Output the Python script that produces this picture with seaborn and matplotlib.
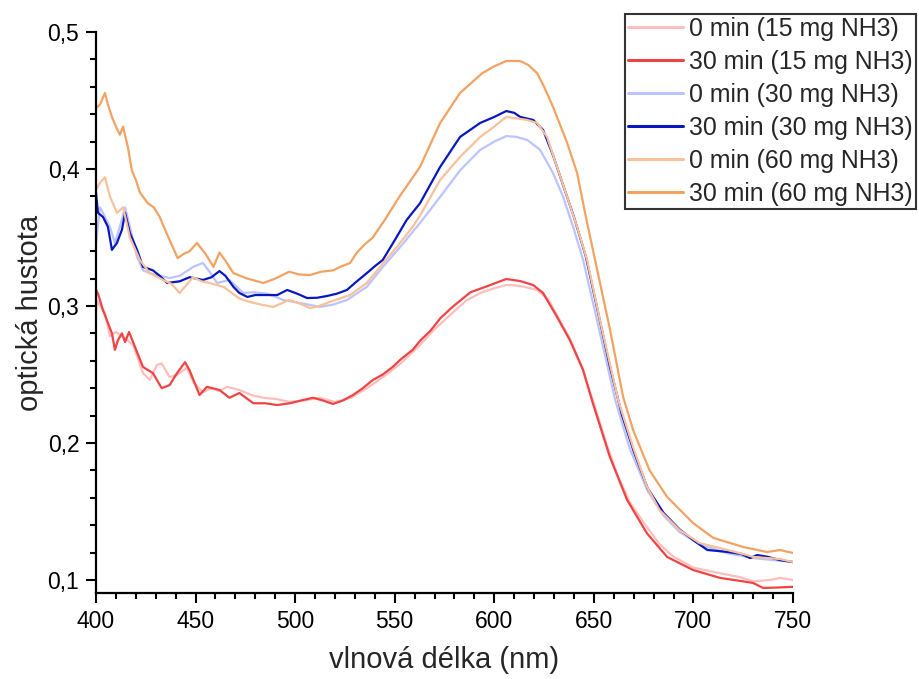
import matplotlib
matplotlib.use("Agg")
import matplotlib.pyplot as plt
from matplotlib.lines import Line2D
from matplotlib.ticker import MultipleLocator, FuncFormatter
import seaborn as sns
import pandas as pd

labels = ["0 min (15 mg NH3)", "30 min (15 mg NH3)", "0 min (30 mg NH3)",
          "30 min (30 mg NH3)", "0 min (60 mg NH3)", "30 min (60 mg NH3)"]
colors = ["#FFBDBD", "#EE4444", "#BCC4FF", "#0818BE", "#F9C19A", "#F2A263"]

wl_pink = [400, 400.5, 402, 404.5, 407, 410, 412, 415, 418.6, 421, 423.6, 427, 430.6, 433, 437, 441,
           445.7, 449, 453.7, 458, 462, 465.8, 472, 478, 484, 491, 497, 505, 512, 520, 528, 536, 545,
           553, 562.7, 570, 579, 586, 593, 600, 606, 611, 615, 621.5, 627, 632, 638, 644, 650, 656,
           662, 668, 675, 683, 690, 700, 713, 723.5, 730, 738.5, 743.5, 750]
od_pink = [0.295, 0.304, 0.300, 0.295, 0.278, 0.281, 0.279, 0.276, 0.2715, 0.262, 0.251, 0.246, 0.257,
           0.258, 0.248, 0.250, 0.255, 0.244, 0.237, 0.240, 0.238, 0.241, 0.2387, 0.235, 0.233, 0.232,
           0.230, 0.231, 0.233, 0.230, 0.233, 0.240, 0.249, 0.258, 0.2715, 0.283, 0.295, 0.304, 0.3095,
           0.313, 0.3153, 0.315, 0.314, 0.3117, 0.305, 0.292, 0.276, 0.255, 0.229, 0.201, 0.176, 0.157,
           0.142, 0.126, 0.117, 0.109, 0.105, 0.102, 0.099, 0.100, 0.1015, 0.100]

wl_red = [400, 401, 403.5, 406, 408, 409.5, 411, 413, 414.6, 416.6, 419.6, 423.6, 428.6, 433, 437,
          440.7, 444.7, 447, 452, 455.7, 462, 467, 472, 479, 485, 491, 497.4, 504, 509, 514, 519, 524,
          529, 534, 539, 544, 549, 553, 559, 563, 568, 573, 579, 588, 598, 606, 613, 619.5, 624.5,
          631.5, 638, 644.6, 649.5, 658, 666.7, 676.7, 686.8, 699.8, 713.4, 725, 730, 735, 742, 750]
od_red = [0.3117, 0.309, 0.297, 0.2876, 0.280, 0.268, 0.275, 0.280, 0.2737, 0.281, 0.270, 0.2555,
          0.251, 0.240, 0.2423, 0.251, 0.259, 0.253, 0.235, 0.241, 0.2387, 0.233, 0.2365, 0.229,
          0.229, 0.2277, 0.229, 0.2314, 0.233, 0.231, 0.2285, 0.231, 0.235, 0.240, 0.246, 0.250,
          0.2555, 0.261, 0.268, 0.275, 0.282, 0.2912, 0.2993, 0.310, 0.3153, 0.3197, 0.3182, 0.3153,
          0.3095, 0.292, 0.275, 0.2533, 0.229, 0.190, 0.1584, 0.134, 0.1168, 0.1073, 0.1015, 0.099,
          0.0978, 0.0942, 0.0945, 0.095]

wl_lblue = [400, 402, 403.5, 407, 409.5, 412, 414.6, 417, 420.6, 423.6, 427, 430.6, 437, 442, 448.7,
            453.7, 457, 460.8, 467, 474, 479, 486, 494, 503, 512.5, 519, 526, 536, 544, 552.7, 562.7,
            572.8, 582.8, 592.9, 600, 606, 611, 616.5, 623, 629.5, 634.6, 639.6, 644.6, 652, 660.7,
            668, 677, 685, 693, 703, 717, 730, 743.5, 750]
od_lblue = [0.346, 0.372, 0.368, 0.3577, 0.346, 0.358, 0.372, 0.358, 0.3358, 0.326, 0.324, 0.3226,
            0.3204, 0.322, 0.3285, 0.3314, 0.325, 0.3168, 0.319, 0.3095, 0.310, 0.309, 0.3044, 0.302,
            0.2993, 0.301, 0.3044, 0.314, 0.3285, 0.343, 0.3606, 0.3796, 0.399, 0.4139, 0.420, 0.424,
            0.4235, 0.4212, 0.414, 0.397, 0.3796, 0.3577, 0.3336, 0.287, 0.2314, 0.196, 0.165, 0.147,
            0.135, 0.126, 0.1195, 0.116, 0.114, 0.113]

wl_dblue = [400, 401, 403.5, 406, 408, 410.5, 413, 414.6, 417, 420.6, 423.6, 428.6, 432, 435.7, 442,
            447, 453.7, 458, 462, 465, 469, 472, 476, 480, 486, 491, 496, 501, 506, 511, 516, 521, 526,
            531, 536, 540, 544, 550, 556, 562.7, 572.8, 582.8, 592.9, 600, 606, 610, 613, 619.5, 624.5,
            629.5, 634.6, 640, 646, 652, 658, 664, 670, 677, 685, 693, 700, 707, 717, 724, 728.5, 732,
            737, 743.5, 750]
od_dblue = [0.3825, 0.368, 0.365, 0.3577, 0.341, 0.346, 0.3555, 0.368, 0.3533, 0.341, 0.3285, 0.326,
            0.322, 0.3168, 0.318, 0.321, 0.319, 0.321, 0.3255, 0.322, 0.314, 0.3095, 0.3066, 0.308,
            0.308, 0.308, 0.3117, 0.309, 0.3058, 0.306, 0.3073, 0.309, 0.3117, 0.318, 0.324, 0.329,
            0.3336, 0.348, 0.3628, 0.375, 0.4015, 0.4234, 0.4336, 0.438, 0.4423, 0.441, 0.438, 0.4358,
            0.4285, 0.4100, 0.388, 0.365, 0.336, 0.296, 0.256, 0.221, 0.194, 0.167, 0.149, 0.137,
            0.129, 0.1219, 0.1205, 0.119, 0.116, 0.1182, 0.117, 0.1145, 0.1131]

wl_lorange = [400, 402, 404.5, 407, 410.5, 413.6, 417, 422, 427, 433.7, 438, 442, 448.7, 453, 457,
              464, 472, 477, 483, 489, 497, 502, 507.5, 512, 517.5, 527.6, 536, 542.6, 551, 559, 562.7,
              572.8, 582.8, 592.9, 600, 606, 611, 616.5, 621.5, 626.5, 631.5, 636.6, 641.6, 646.6,
              653, 662.2, 669.7, 676.7, 683, 693, 703, 717, 727, 730, 743.5, 750]
od_lorange = [0.3847, 0.390, 0.394, 0.380, 0.368, 0.372, 0.350, 0.3336, 0.324, 0.319, 0.316, 0.3095,
              0.321, 0.318, 0.3168, 0.314, 0.3055, 0.303, 0.301, 0.2993, 0.3044, 0.302, 0.2985, 0.300,
              0.303, 0.308, 0.3168, 0.3285, 0.343, 0.3577, 0.366, 0.392, 0.4088, 0.4234, 0.431, 0.438,
              0.437, 0.4358, 0.4336, 0.4234, 0.4015, 0.3796, 0.3577, 0.3336, 0.290, 0.2314, 0.197,
              0.168, 0.151, 0.1365, 0.127, 0.1219, 0.1182, 0.1168, 0.1153, 0.1131]

wl_orange = [400, 402, 404.5, 406, 408, 410, 412, 413.6, 416, 418, 420, 422, 426, 429, 432, 434, 437,
             441, 444, 447, 450.7, 455, 459, 462, 465, 469, 476, 484, 490, 497, 502, 507.5, 513, 519,
             522.5, 527.6, 531, 535, 539, 545, 552, 562.7, 572.8, 582.8, 594, 600, 606, 613, 617,
             621.5, 625, 629.5, 636.6, 641.6, 646, 650.6, 658, 664.7, 669.7, 678, 686.8, 699.8, 710,
             725, 737, 743.5, 750]
od_orange = [0.4445, 0.447, 0.4555, 0.447, 0.438, 0.431, 0.425, 0.431, 0.416, 0.399, 0.392, 0.383,
             0.375, 0.372, 0.365, 0.358, 0.348, 0.335, 0.338, 0.340, 0.346, 0.338, 0.3285, 0.339,
             0.333, 0.324, 0.320, 0.3168, 0.320, 0.325, 0.323, 0.3226, 0.325, 0.326, 0.3285, 0.3314,
             0.339, 0.345, 0.350, 0.3628, 0.379, 0.4015, 0.4336, 0.4555, 0.470, 0.475, 0.4788, 0.4788,
             0.476, 0.470, 0.460, 0.4453, 0.419, 0.397, 0.365, 0.3336, 0.2836, 0.2336, 0.2095, 0.180,
             0.1606, 0.1416, 0.1307, 0.1241, 0.1204, 0.1219, 0.1197]

x_ticks = [400, 450, 500, 550, 600, 650, 700, 750]
y_ticks = [0.1, 0.2, 0.3, 0.4, 0.5]

series = [(wl_pink, od_pink), (wl_red, od_red), (wl_lblue, od_lblue),
          (wl_dblue, od_dblue), (wl_lorange, od_lorange), (wl_orange, od_orange)]
frames = [pd.DataFrame({"wl": w, "od": o, "series": lab}) for (w, o), lab in zip(series, labels)]
df = pd.concat(frames, ignore_index=True)

sns.set_style("ticks")
plt.rcParams["font.family"] = ["Liberation Sans", "DejaVu Sans"]

fig = plt.figure(figsize=(9.19, 6.79), dpi=100)
ax = fig.add_axes([96 / 919, 1 - 593 / 679, 697 / 919, 561 / 679])

sns.lineplot(data=df, x="wl", y="od", hue="series", hue_order=labels,
             palette=dict(zip(labels, colors)), estimator=None, sort=True,
             linewidth=1.6, legend=False, ax=ax)

ax.set_xlim(400, 750)
ax.set_ylim(0.0905, 0.5)
ax.set_xticks(x_ticks)
ax.set_yticks(y_ticks)
ax.xaxis.set_minor_locator(MultipleLocator(10))
ax.yaxis.set_minor_locator(MultipleLocator(0.02))
ax.yaxis.set_major_formatter(FuncFormatter(lambda v, p: f"{v:.1f}".replace(".", ",")))
ax.xaxis.set_major_formatter(FuncFormatter(lambda v, p: f"{v:.0f}"))

for s in ["top", "right"]:
    ax.spines[s].set_visible(False)
for s in ["left", "bottom"]:
    ax.spines[s].set_linewidth(1.6)
    ax.spines[s].set_color("black")

ax.tick_params(axis="both", which="major", direction="out", length=7, width=1.5,
               labelsize=16.5, colors="black", pad=5)
ax.tick_params(axis="both", which="minor", direction="out", length=4, width=1.5, colors="black")

ax.set_xlabel("vlnová délka (nm)", fontsize=21)
ax.set_ylabel("optická hustota", fontsize=21)
ax.xaxis.set_label_coords(0.5, -0.095)
ax.yaxis.set_label_coords(-0.075, 0.5)

handles = [Line2D([0], [0], color=c, lw=2.2) for c in colors]
leg = ax.legend(handles, labels, loc="upper left", bbox_to_anchor=(625 / 919, 1 - 14 / 679),
                bbox_transform=fig.transFigure, fontsize=17.9, frameon=True, fancybox=False,
                framealpha=1, edgecolor="#333333", handlelength=2.2, handletextpad=0.25,
                labelspacing=0.36, borderpad=0.12, borderaxespad=0)
leg.get_frame().set_linewidth(1.5)

fig.savefig("out.png", dpi=100)
